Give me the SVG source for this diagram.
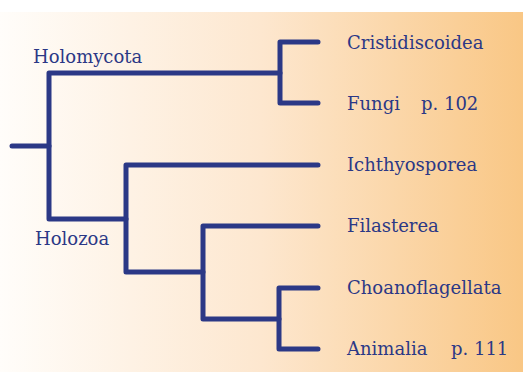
<svg xmlns="http://www.w3.org/2000/svg" width="523" height="372" viewBox="0 0 523 372">
<defs>
<linearGradient id="bg" x1="0" y1="0" x2="1" y2="0">
<stop offset="0" stop-color="#fffdfa"/>
<stop offset="0.5" stop-color="#fde7cf"/>
<stop offset="1" stop-color="#f9c785"/>
</linearGradient>
<style>
.br{fill:none;stroke:#2b3886;stroke-width:5;stroke-linecap:round;stroke-linejoin:round}
.lb{font-family:'DejaVu Serif',serif;font-size:18px;fill:#2b3886}
</style>
</defs>
<rect x="0" y="0" width="523" height="372" fill="#ffffff"/>
<rect x="0" y="12" width="523" height="360" fill="url(#bg)"/>
<g id="connectors">
<path class="br" d="M12,146 H49"/>
<path class="br" d="M280,73 H49 V219 H126"/>
<path class="br" d="M318,42 H280 V103 H318"/>
<path class="br" d="M318,165 H126 V272 H203"/>
<path class="br" d="M318,226 H203 V319 H279"/>
<path class="br" d="M318,288 H279 V349 H318"/>
</g>
<g id="holomycota"><text class="lb" x="33" y="63">Holomycota</text></g>
<g id="holozoa"><text class="lb" x="35" y="245">Holozoa</text></g>
<g id="cristidiscoidea"><text class="lb" x="347" y="49">Cristidiscoidea</text></g>
<g id="fungi"><text class="lb" x="347" y="110">Fungi<tspan x="421">p. 102</tspan></text></g>
<g id="ichthyosporea"><text class="lb" x="347" y="171">Ichthyosporea</text></g>
<g id="filasterea"><text class="lb" x="347" y="232">Filasterea</text></g>
<g id="choanoflagellata"><text class="lb" x="347" y="294">Choanoflagellata</text></g>
<g id="animalia"><text class="lb" x="347" y="355">Animalia<tspan x="451">p. 111</tspan></text></g>
</svg>
